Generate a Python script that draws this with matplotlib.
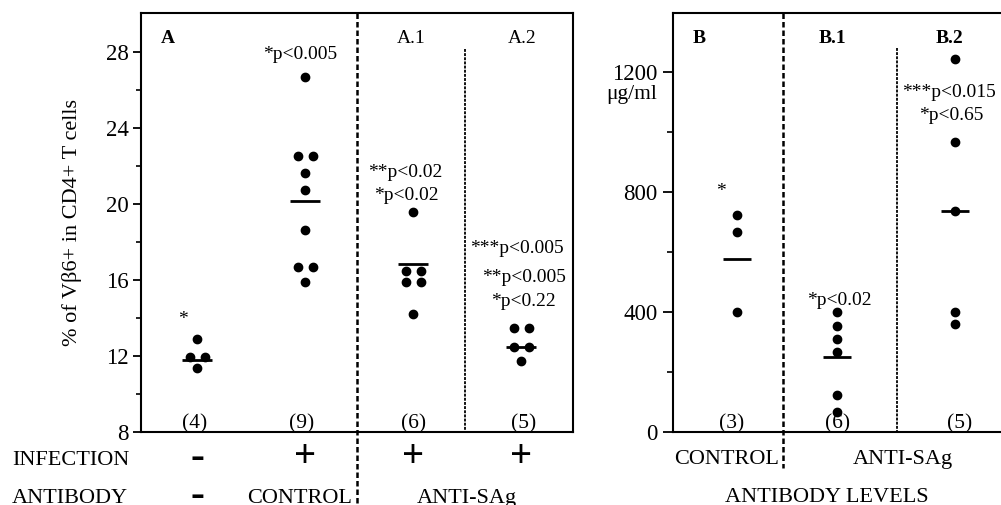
import matplotlib
matplotlib.use("Agg")
import matplotlib.pyplot as plt
import matplotlib.transforms as mtransforms
from collections import Counter

# ---------------- data ----------------
vb6_uninfected = [12.88, 11.93, 11.93, 11.35]
vb6_control_ab = [26.67, 22.54, 22.54, 21.65, 20.74, 18.63, 16.70, 16.70, 15.88]
vb6_anti_sag_1 = [19.60, 16.49, 16.49, 15.88, 15.88, 14.20]
vb6_anti_sag_2 = [13.49, 13.49, 12.49, 12.49, 11.75]
vb6_means = [11.79, 20.16, 16.84, 12.49]
vb6_n_labels = ["(4)", "(9)", "(6)", "(5)"]
vb6_yticks = [8, 12, 16, 20, 24, 28]

ab_control = [723, 667, 399]
ab_anti_sag_1 = [399, 353, 309, 268, 123, 66]
ab_anti_sag_2 = [1242, 968, 738, 399, 360]
ab_means = [577, 250, 738]
ab_n_labels = ["(3)", "(6)", "(5)"]
ab_yticks = [0, 400, 800, 1200]

infection_labels = ["–", "+", "+", "+"]
antibody_labels = ["–", "CONTROL"]

# ---------------- style ----------------
SERIF = "Liberation Serif"
plt.rcParams["font.family"] = [SERIF, "DejaVu Serif"]
plt.rcParams["axes.linewidth"] = 1.5

W, H = 1001, 505
fig = plt.figure(figsize=(W / 100, H / 100), dpi=100)


def px_ax(x0, x1, y0, y1):
    return [x0 / W, (H - y1) / H, (x1 - x0) / W, (y1 - y0) / H]


ax1 = fig.add_axes(px_ax(141, 573, 13, 432))
ax2 = fig.add_axes(px_ax(673, 1001, 13, 432))


def offsets(vals, d):
    cnt = Counter(vals)
    seen = Counter()
    out = []
    for v in vals:
        n = cnt[v]
        k = seen[v]
        seen[v] += 1
        out.append((k - (n - 1) / 2) * 2 * d if n > 1 else 0.0)
    return out


def draw_groups(ax, positions, groups, means, d, half):
    for pos, vals, m in zip(positions, groups, means):
        offs = offsets(vals, d)
        ax.plot([pos + o for o in offs], vals, "o", color="black", ms=6,
                mec="black", clip_on=False, zorder=3)
        ax.hlines(m, pos - half, pos + half, color="black", lw=2.0, zorder=3)


# ---------------- left panel ----------------
pos1 = [0, 1, 2, 3]
draw_groups(ax1, pos1, [vb6_uninfected, vb6_control_ab, vb6_anti_sag_1, vb6_anti_sag_2],
            vb6_means, 0.07, 0.14)
ax1.set_xlim(-0.52, 3.48)
ax1.set_ylim(8, 30.05)
ax1.set_yticks(vb6_yticks)
ax1.set_yticks([10, 14, 18, 22, 26], minor=True)
ax1.tick_params(axis="y", which="major", length=6, width=1.3, labelsize=16.5, pad=3)
ax1.tick_params(axis="y", which="minor", length=3.6, width=1.2)
ax1.tick_params(axis="x", bottom=False, labelbottom=False)
ax1.set_ylabel("% of Vβ6+ in CD4+ T cells", fontsize=16, labelpad=17)

# separators
tb1 = mtransforms.blended_transform_factory(ax1.transData, ax1.transAxes)
ax1.plot([1.48, 1.48], [1.0, -0.175], transform=tb1, color="black", lw=1.8,
         dashes=(2.2, 1.2), clip_on=False)
ax1.plot([2.48, 2.48], [0.914, 0.0], transform=tb1, color="black", lw=1.3,
         dashes=(1.6, 0.7), clip_on=False)

ax1.text(-0.27, 28.47, "A", fontsize=14, fontweight="bold", ha="center", va="baseline")
ax1.text(1.98, 28.47, "A.1", fontsize=14, ha="center", va="baseline")
ax1.text(3.01, 28.47, "A.2", fontsize=14, ha="center", va="baseline")
ax1.text(0.95, 27.63, "*p<0.005", fontsize=14, ha="center", va="baseline")
ax1.text(1.93, 21.42, "**p<0.02", fontsize=14, ha="center", va="baseline")
ax1.text(1.94, 20.21, "*p<0.02", fontsize=14, ha="center", va="baseline")
ax1.text(2.96, 17.42, "***p<0.005", fontsize=14, ha="center", va="baseline")
ax1.text(3.03, 15.90, "**p<0.005", fontsize=14, ha="center", va="baseline")
ax1.text(3.02, 14.63, "*p<0.22", fontsize=14, ha="center", va="baseline")
ax1.text(-0.13, 13.68, "*", fontsize=14, ha="center", va="baseline")
for pos, lab in zip([-0.02, 0.97, 2.0, 3.02], vb6_n_labels):
    ax1.text(pos, 8.21, lab, fontsize=15.5, ha="center", va="baseline")

# rows beneath the left panel
tf1 = mtransforms.blended_transform_factory(ax1.transData, fig.transFigure)
fig.text(12 / W, (H - 465) / H, "INFECTION", fontsize=16, ha="left", va="baseline")
fig.text(12 / W, (H - 503) / H, "ANTIBODY", fontsize=16, ha="left", va="baseline")
for pos, lab in zip(pos1, infection_labels):
    if lab == "+":
        ax1.text(pos, (H - 467) / H, lab, transform=tf1, fontsize=28, fontweight="bold",
                 ha="center", va="baseline", clip_on=False)
    else:
        ax1.text(pos, (H - 466) / H, lab, transform=tf1, fontsize=20, fontweight="bold",
                 family="DejaVu Sans", ha="center", va="baseline", clip_on=False)
ax1.text(0, (H - 503.5) / H, antibody_labels[0], transform=tf1, fontsize=20,
         fontweight="bold", family="DejaVu Sans", ha="center", va="baseline")
ax1.text(0.95, (H - 503) / H, antibody_labels[1], transform=tf1, fontsize=16,
         ha="center", va="baseline")
ax1.text(2.5, (H - 503) / H, "ANTI-SAg", transform=tf1, fontsize=16,
         ha="center", va="baseline")

# ---------------- right panel ----------------
pos2 = [0, 0.92, 2.0]
draw_groups(ax2, pos2, [ab_control, ab_anti_sag_1, ab_anti_sag_2], ab_means, 0.07, 0.13)
ax2.set_xlim(-0.587, 2.422)
ax2.set_ylim(0, 1397)
ax2.set_yticks(ab_yticks)
ax2.set_yticks([200, 600, 1000], minor=True)
ax2.tick_params(axis="y", which="major", length=7, width=1.3, labelsize=16.5, pad=4)
ax2.tick_params(axis="y", which="minor", length=4.5, width=1.2)
ax2.tick_params(axis="x", bottom=False, labelbottom=False)
ax2.spines["right"].set_visible(False)

tb2 = mtransforms.blended_transform_factory(ax2.transData, ax2.transAxes)
ax2.plot([0.422, 0.422], [1.0, -0.086], transform=tb2, color="black", lw=1.8,
         dashes=(2.2, 1.2), clip_on=False)
ax2.plot([1.468, 1.468], [0.916, 0.0], transform=tb2, color="black", lw=1.3,
         dashes=(1.6, 0.7), clip_on=False)

ax2.text(-0.35, 1297, "B", fontsize=14, fontweight="bold", ha="center", va="baseline")
ax2.text(0.88, 1297, "B.1", fontsize=14, fontweight="bold", ha="center", va="baseline")
ax2.text(1.95, 1297, "B.2", fontsize=14, fontweight="bold", ha="center", va="baseline")
ax2.text(1.94, 1117, "***p<0.015", fontsize=14, ha="center", va="baseline")
ax2.text(1.97, 1040, "*p<0.65", fontsize=14, ha="center", va="baseline")
ax2.text(0.94, 423, "*p<0.02", fontsize=14, ha="center", va="baseline")
ax2.text(-0.15, 787, "*", fontsize=14, ha="center", va="baseline")
for pos, lab in zip([-0.05, 0.92, 2.04], ab_n_labels):
    ax2.text(pos, 13, lab, fontsize=15.5, ha="center", va="baseline")

fig.text(657 / W, (H - 99) / H, "μg/ml", fontsize=15.5, ha="right", va="baseline")

tf2 = mtransforms.blended_transform_factory(ax2.transData, fig.transFigure)
ax2.text(-0.1, (H - 464) / H, "CONTROL", transform=tf2, fontsize=16, ha="center", va="baseline")
ax2.text(1.52, (H - 464) / H, "ANTI-SAg", transform=tf2, fontsize=16, ha="center", va="baseline")
ax2.text(0.82, (H - 502) / H, "ANTIBODY LEVELS", transform=tf2, fontsize=16,
         ha="center", va="baseline")

fig.savefig("out.png", dpi=100)
